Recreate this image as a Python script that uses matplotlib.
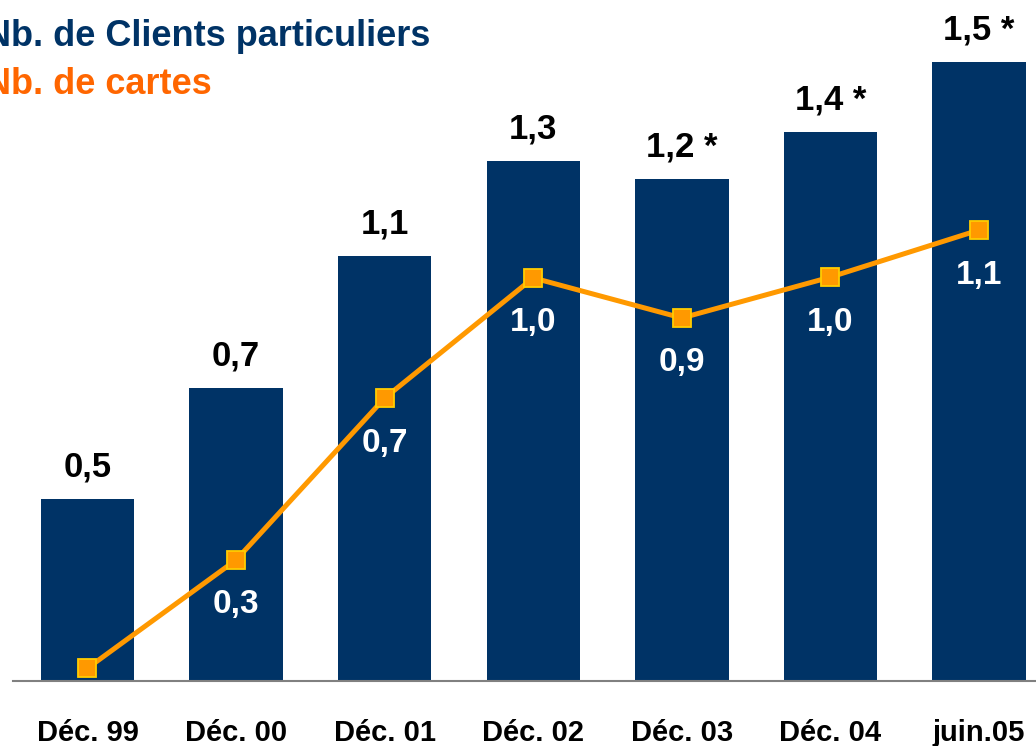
import matplotlib
matplotlib.use("Agg")
import matplotlib.pyplot as plt
from matplotlib.transforms import blended_transform_factory

plt.rcParams['font.family'] = ['Liberation Sans', 'DejaVu Sans']

# Données (millions)
periodes = ['Déc. 99', 'Déc. 00', 'Déc. 01', 'Déc. 02', 'Déc. 03', 'Déc. 04', 'juin.05']
clients = [0.44, 0.71, 1.03, 1.26, 1.215, 1.33, 1.50]
clients_lbl = ['0,5', '0,7', '1,1', '1,3', '1,2 *', '1,4 *', '1,5 *']
cartes = [0.031, 0.293, 0.685, 0.976, 0.879, 0.978, 1.092]
cartes_lbl = ['', '0,3', '0,7', '1,0', '0,9', '1,0', '1,1']

navy = '#003366'
orange_line = '#FF9900'
orange_txt = '#FF6600'

fig = plt.figure(figsize=(10.36, 7.46), dpi=100)
ax = fig.add_axes([13 / 1036, 65 / 746, 1 - 13 / 1036, 681 / 746])

x = list(range(len(periodes)))
ax.bar(x, clients, width=0.628, color=navy, zorder=2)
ax.plot(x, cartes, color=orange_line, lw=3.6, marker='s', ms=12.5,
        mfc=orange_line, mec='#FFCC00', mew=1.3, zorder=3)

for i, (v, t) in enumerate(zip(clients, clients_lbl)):
    ax.annotate(t, (i, v), xytext=(0, 32), textcoords='offset pixels',
                ha='center', va='center', fontsize=25, fontweight='bold', color='black')
for i, (v, t) in enumerate(zip(cartes, cartes_lbl)):
    if t:
        ax.annotate(t, (i, v), xytext=(0, -45), textcoords='offset pixels',
                    ha='center', va='center', fontsize=24, fontweight='bold',
                    color='white', zorder=4)

# étiquettes de l'axe des x
tr = blended_transform_factory(ax.transData, fig.transFigure)
for i, p in enumerate(periodes):
    ax.text(i, 5 / 746, p, transform=tr, ha='center', va='baseline',
            fontsize=21, fontweight='bold', color='black')

ax.set_xlim(-0.501, 6.383)
ax.set_ylim(0, 681 / 413)
ax.set_xticks([])
ax.set_yticks([])
for s in ['top', 'right', 'left']:
    ax.spines[s].set_visible(False)
ax.spines['bottom'].set_color('#808080')
ax.spines['bottom'].set_linewidth(1.5)

# légende (coupée à gauche comme dans l'original)
fig.text(-15 / 1036, 1 - 36 / 746, 'Nb. de Clients particuliers', color=navy,
         fontsize=26, fontweight='bold', va='center', ha='left')
fig.text(-15 / 1036, 1 - 85 / 746, 'Nb. de cartes', color=orange_txt,
         fontsize=26, fontweight='bold', va='center', ha='left')

fig.savefig('out.png', dpi=100)
